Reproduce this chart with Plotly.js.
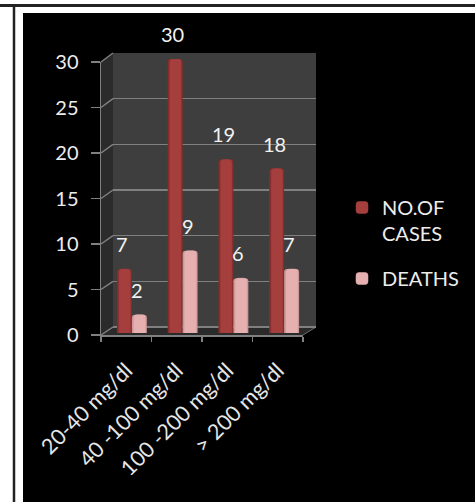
<!DOCTYPE html>
<html><head><meta charset="utf-8">
<script src="https://cdn.plot.ly/plotly-3.0.1.min.js"></script>
<style>html,body{margin:0;padding:0;background:#fff}#c{width:475px;height:502px}</style>
</head><body><div id="c"></div>
<script>
var categories = ['20-40 mg/dl', '40 -100 mg/dl', '100 -200 mg/dl', '> 200 mg/dl'];
var cases = [7, 30, 19, 18];
var deaths = [2, 9, 6, 7];
var yTicks = [0, 5, 10, 15, 20, 25, 30];
var seriesNames = ['NO.OF<br>CASES', 'DEATHS'];

var W = 475, H = 502;
function fx(a, b) { return [a / W, b / W]; }
function fy(top, bottom) { return [1 - bottom / H, 1 - top / H]; }
function px(x) { return x / W; }
function py(y) { return 1 - y / H; }

var front = {l: 101, r: 303, t: 62, b: 335};
var back = {l: 113, r: 316, t: 53, b: 327};
var yAt = function (v, g) { return g.b + (g.t - g.b) * v / 30; };
function path(pts) {
  return 'M' + pts.map(function (p) { return px(p[0]) + ',' + py(p[1]); }).join('L') + 'Z';
}
var shapes = [
  {type: 'rect', xref: 'paper', yref: 'paper', x0: 0, x1: 1, y0: 0, y1: 1, fillcolor: '#fff', line: {width: 0}, layer: 'below'},
  {type: 'line', xref: 'paper', yref: 'paper', x0: 0, x1: 1, y0: py(5.5), y1: py(5.5), line: {color: '#222', width: 3}, layer: 'below'},
  {type: 'line', xref: 'paper', yref: 'paper', x0: px(14), x1: px(14), y0: 0, y1: py(5), line: {color: '#222', width: 2.5}, layer: 'below'},
  {type: 'rect', xref: 'paper', yref: 'paper', x0: px(23), x1: 1, y0: 0, y1: py(13), fillcolor: '#000', line: {width: 0}, layer: 'below'},
  {type: 'path', xref: 'paper', yref: 'paper', path: path([[front.l, front.t], [back.l, back.t], [back.l, back.b], [front.l, front.b]]), fillcolor: '#2b2b2b', line: {width: 0}, layer: 'below'},
  {type: 'rect', xref: 'paper', yref: 'paper', x0: px(back.l), x1: px(back.r), y0: py(back.b), y1: py(back.t), fillcolor: '#3e3e3e', line: {width: 0}, layer: 'below'},
  {type: 'path', xref: 'paper', yref: 'paper', path: path([[front.l, front.b], [back.l, back.b], [back.r, back.b], [front.r, front.b]]), fillcolor: '#2a2a2a', line: {width: 0}, layer: 'below'},
  {type: 'line', xref: 'paper', yref: 'paper', x0: px(front.r), x1: px(back.r), y0: py(front.b), y1: py(back.b), line: {color: '#6f6f6f', width: 1}, layer: 'below'}
];
yTicks.forEach(function (v) {
  shapes.push({type: 'line', xref: 'paper', yref: 'paper',
    x0: px(front.l), x1: px(back.l), y0: py(yAt(v, front)), y1: py(yAt(v, back)),
    line: {color: '#808080', width: 1.5}, layer: 'below'});
});

var fam = 'Lato, Carlito, sans-serif';
var tickFont = {family: fam, size: 20, color: '#ededed'};
var catFont = {family: fam, size: 21.5, color: '#e6e6e6'};
var labelFont = {family: fam, size: 20, color: '#f2f2f2'};
var legendFont = {family: fam, size: 20, color: '#ededed'};

var BW = 0.295;
function bar(name, y, color, offset, width, legend, line) {
  return {type: 'bar', x: categories, y: y, name: name, xaxis: 'x3', yaxis: 'y3', legendgroup: name,
    offset: offset, width: width, marker: {color: color, line: {width: line || 0, color: color}},
    showlegend: legend, hoverinfo: 'skip'};
}
var traces = [
  bar(seriesNames[0], cases, '#842d2c', -BW, BW, false),
  bar(seriesNames[1], deaths, '#cb9798', 0, BW, false),
  bar(seriesNames[0], cases, '#a43f3d', -BW + 0.04, BW - 0.07, true, 0.5),
  bar(seriesNames[1], deaths, '#e6b0b1', 0.04, BW - 0.07, true, 0.5),
  {type: 'scatter', x: categories, y: cases, xaxis: 'x', yaxis: 'y', mode: 'none', showlegend: false, hoverinfo: 'skip'},
  {type: 'scatter', x: categories, y: cases, xaxis: 'x2', yaxis: 'y2', mode: 'none', showlegend: false, hoverinfo: 'skip'}
];

var annotations = [];
function addLabels(vals, shift) {
  vals.forEach(function (v, i) {
    annotations.push({x: categories[i], y: v, xref: 'x3', yref: 'y3', text: String(v), showarrow: false,
      xshift: shift, yshift: 25, font: labelFont});
  });
}
addLabels(cases, -10);
addLabels(deaths, 5);

var layout = {
  width: W, height: H, autosize: false,
  margin: {l: 0, r: 0, t: 0, b: 0, pad: 0},
  paper_bgcolor: '#fff', plot_bgcolor: 'rgba(0,0,0,0)',
  barmode: 'overlay', barcornerradius: 3,
  showlegend: true,
  legend: {x: px(342), y: py(188), xanchor: 'left', yanchor: 'top', font: legendFont, valign: 'top',
    bgcolor: 'rgba(0,0,0,0)', tracegroupgap: 16, itemwidth: 30},
  xaxis: {domain: fx(front.l, front.r), anchor: 'y', type: 'category', categoryorder: 'array', categoryarray: categories,
    range: [-0.5, 3.5], tickson: 'boundaries', ticks: 'outside', ticklen: 5, tickcolor: '#808080', tickwidth: 1.5,
    showline: true, linecolor: '#808080', linewidth: 1.5, showgrid: false, tickangle: -45, tickfont: catFont,
    ticklabelstandoff: 13, fixedrange: true},
  yaxis: {domain: fy(front.t, front.b), anchor: 'x', range: [0, 30], tickvals: yTicks, ticks: 'outside', ticklen: 9,
    tickcolor: '#808080', tickwidth: 1.5, showline: true, linecolor: '#808080', linewidth: 1.5, showgrid: false,
    zeroline: false, tickfont: tickFont, ticklabelstandoff: 8, fixedrange: true},
  xaxis2: {domain: fx(back.l, back.r), anchor: 'y2', type: 'category', range: [-0.5, 3.5], visible: false, fixedrange: true},
  yaxis2: {domain: fy(back.t, back.b), anchor: 'x2', range: [0, 30], tickvals: yTicks, showgrid: true, gridcolor: '#808080',
    gridwidth: 1.5, showticklabels: false, ticks: '', showline: false, zeroline: true, zerolinecolor: '#808080', zerolinewidth: 1.5, fixedrange: true},
  xaxis3: {domain: fx(106.5, 309.5), anchor: 'y3', type: 'category', categoryorder: 'array', categoryarray: categories,
    range: [-0.5, 3.5], visible: false, fixedrange: true},
  yaxis3: {domain: fy(59, 333), anchor: 'x3', range: [0, 30], visible: false, fixedrange: true},
  shapes: shapes,
  annotations: annotations
};
Plotly.newPlot('c', traces, layout, {staticPlot: true, displayModeBar: false});
</script></body></html>
